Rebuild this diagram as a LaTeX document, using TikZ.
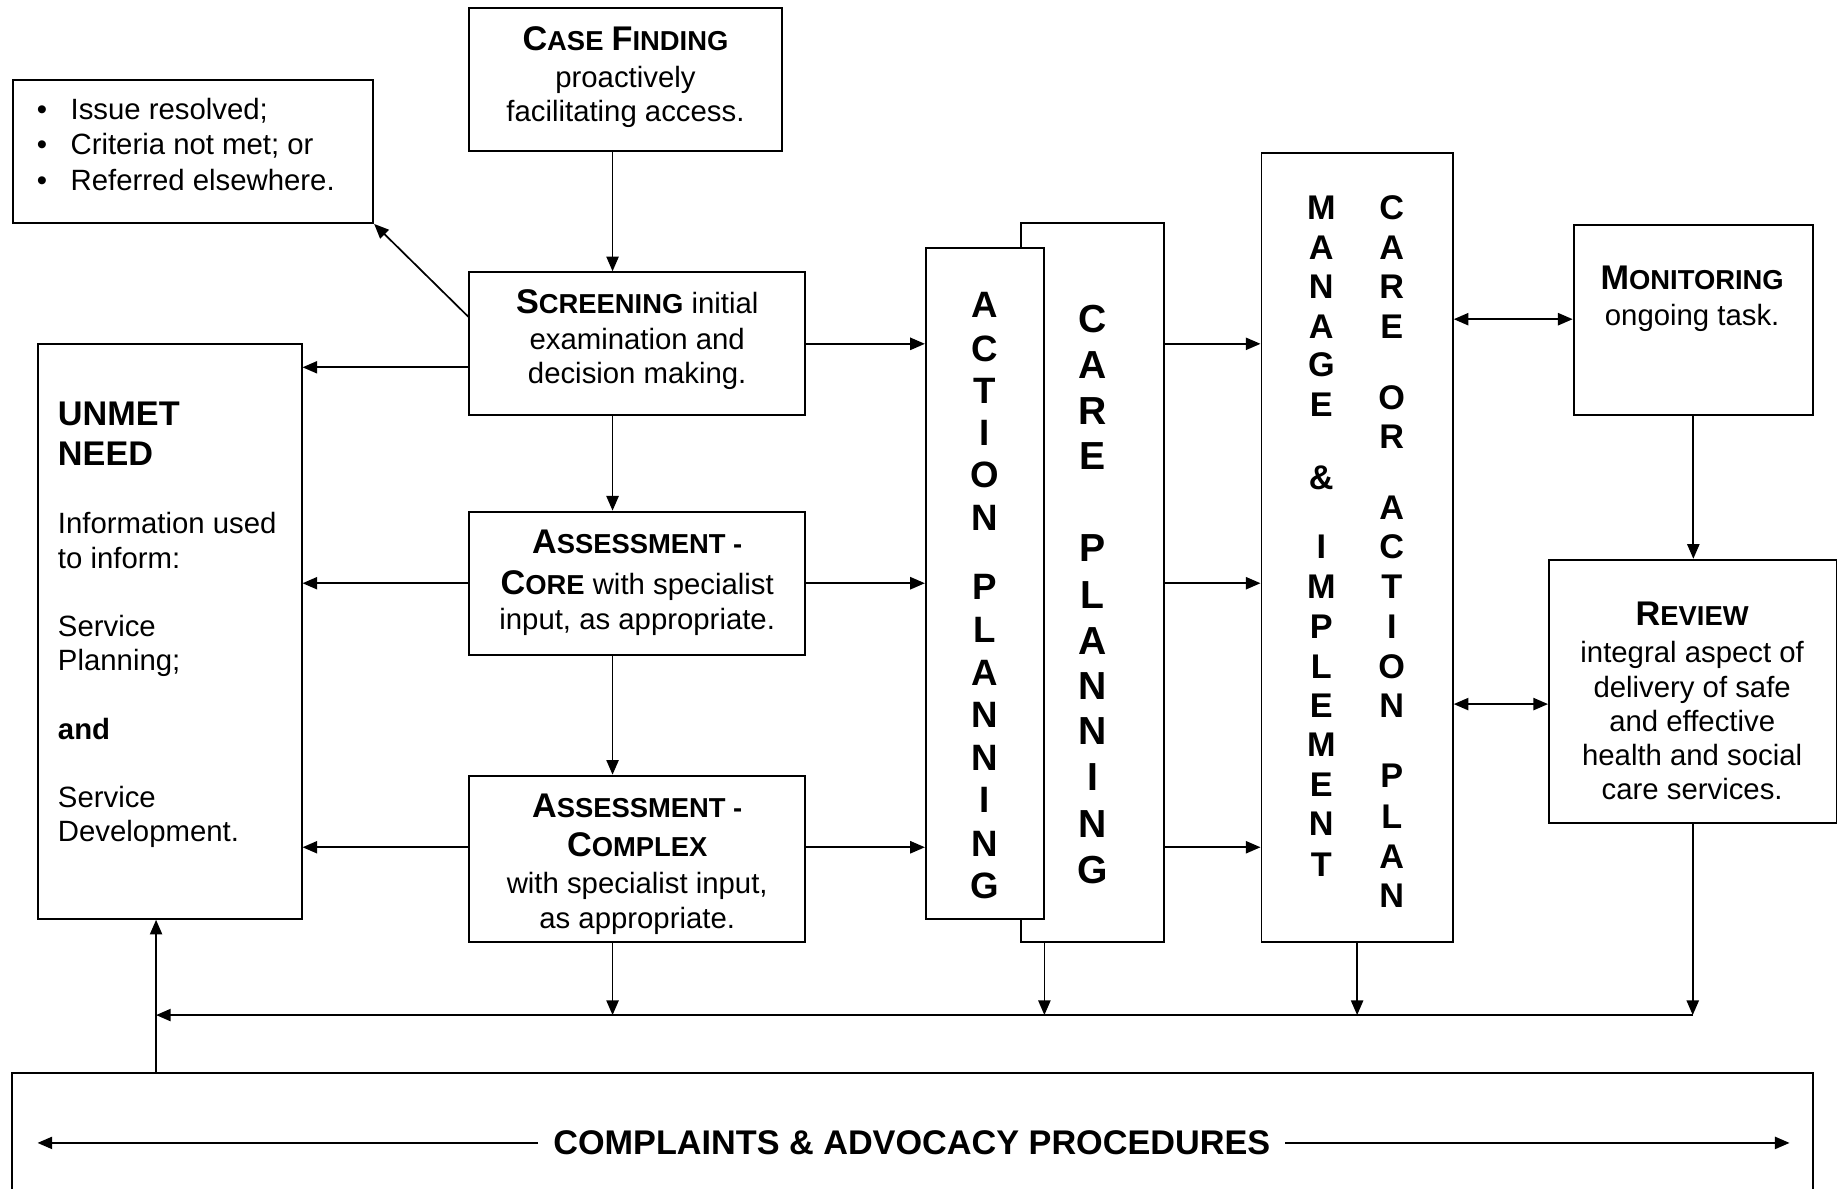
\documentclass[tikz,border=0pt]{standalone}
\usepackage{fontspec}
\setmainfont{Liberation Sans}
\usetikzlibrary{arrows.meta,fit}
\newcommand\hsc[2]{{\bfseries\fontsize{14}{16}\selectfont #1\fontsize{11.2}{16}\selectfont #2}}
\newcommand\lns[2]{\begin{tabular}[t]{@{}#1@{}}#2\end{tabular}}
\newcommand\vletters[4]{\foreach \lt/\yy [count=\ii] in {#4} {\node[vlet, font=\bfseries\fontsize{#2}{#2}\selectfont] (#3\ii) at (#1,\yy) {\lt};}}
\begin{document}
\begin{tikzpicture}[x=0.48pt, y=-0.48pt,
  box/.style={draw, line width=0.8pt, inner sep=0pt, fill=white},
  txt/.style={inner sep=0pt, font=\fontsize{12}{14}\selectfont, anchor=base},
  arr/.style={line width=0.7pt, -{Triangle[length=6pt,width=5pt]}},
  darr/.style={line width=0.7pt, {Triangle[length=6pt,width=5pt]}-{Triangle[length=6pt,width=5pt]}},
  vlet/.style={inner sep=0pt, anchor=center}]
\useasboundingbox (0,0) rectangle (1568,1013);

% boxes
\node[box, fit={(11,68) (318,190)}] (iss) {};
\node[box, fit={(400,7) (666,129)}] (cf) {};
\node[box, fit={(400,232) (686,354)}] (scr) {};
\node[box, fit={(400,436) (686,558)}] (core) {};
\node[box, fit={(400,661) (686,803)}] (cpx) {};
\node[box, fit={(32,293) (257,783)}] (unmet) {};
\node[box, fit={(870,190) (992,803)}] (care) {};
\node[box, fit={(789,211) (890,783)}] (ap) {};
\node[box, fit={(1075,130) (1238,803)}] (man) {};
\node[box, fit={(1341,192) (1545,354)}] (mon) {};
\node[box, fit={(1320,477) (1565,701)}] (rev) {};
\node[box, fit={(10,914) (1545,1040)}] (compbox) {};

% texts
\node[txt, anchor=base west] (isst) at (31,102) {\lns{l}{\textbullet\hspace{9.6pt}Issue resolved;\\[0.4pt]\textbullet\hspace{9.6pt}Criteria not met; or\\[0.4pt]\textbullet\hspace{9.6pt}Referred elsewhere.}};
\node[txt] (cft) at (533,43) {\lns{c}{\hsc{C}{ASE} \hsc{F}{INDING}\\[1pt]proactively\\facilitating access.}};
\node[txt] (scrt) at (543,267) {\lns{c}{\hsc{S}{CREENING} initial\\[0.6pt]examination and\\decision making.}};
\node[txt] (coret) at (543,472) {\lns{c}{\hsc{A}{SSESSMENT -}\\[2.8pt]\hsc{C}{ORE} with specialist\\input, as appropriate.}};
\node[txt] (cpxt) at (543,697) {\lns{c}{\hsc{A}{SSESSMENT -}\\[1.8pt]\hsc{C}{OMPLEX}\\[1.3pt]with specialist input,\\as appropriate.}};
\node[txt] (mont) at (1442,247) {\lns{c}{\hsc{M}{ONITORING}\\[0.5pt]ongoing task.}};
\node[txt] (revt) at (1442,533) {\lns{c}{\hsc{R}{EVIEW}\\[1.3pt]integral aspect of\\delivery of safe\\and effective\\health and social\\care services.}};
\node[txt, anchor=base west, font=\bfseries\fontsize{14}{16}\selectfont] (unh) at (49,363) {\lns{l}{UNMET\\NEED}};
\node[txt, anchor=base west] (unb) at (49,455) {\lns{l}{Information used\\to inform:\\[14pt]Service\\Planning;\\[14pt]\textbf{and}\\[14pt]Service\\Development.}};
\node[txt, inner xsep=6pt, font=\bfseries\fontsize{14}{16}\selectfont] (comp) at (777,984) {COMPLAINTS \& ADVOCACY PROCEDURES};

% vertical letters
\vletters{839}{15}{apl}{A/260,C/297,T/333,I/369,O/405,N/441,P/500,L/537,A/573,N/609,N/646,I/682,N/719,G/755}
\vletters{931}{16}{cpl}{C/272,A/311,R/350,E/389,P/467,L/507,A/546,N/585,N/623,I/662,N/702,G/741}
\vletters{1126}{14}{mla}{M/177,A/211,N/244,A/278,G/311,E/345,\&/407,I/466,M/500,P/534,L/568,E/601,M/635,E/669,N/702,T/737}
\vletters{1186}{14}{mlb}{C/177,A/211,R/244,E/278,O/339,R/372,A/433,C/466,T/500,I/534,O/568,N/601,P/661,L/696,A/730,N/763}

% helper coordinates
\coordinate (cA) at (522,0);
\coordinate (cC) at (890,0);
\coordinate (cU) at (133,0);
\coordinate (cL) at (32,0);
\coordinate (cR) at (1525,0);
\coordinate (yb) at (0,865);
\coordinate (y1) at (0,313);
\coordinate (r1) at (0,293);
\coordinate (y3) at (0,722);
\coordinate (s1) at (0,270);
\coordinate (m1) at (0,272);
\coordinate (m2) at (0,600);

% connectors
\draw[arr] (cf.south -| cA) -- (scr.north -| cA);
\draw[arr] (scr.south -| cA) -- (core.north -| cA);
\draw[arr] (core.south -| cA) -- (cpx.north -| cA);
\draw[arr] (cpx.south -| cA) -- (yb -| cA);
\draw[arr] (care.south -| cC) -- (yb -| cC);
\draw[arr] (man.south) -- (yb -| man.south);
\draw[arr] (rev.south) -- (yb -| rev.south);
\draw[arr] (yb -| rev.south) -- (yb -| cU);
\draw[arr] (compbox.north -| cU) -- (unmet.south -| cU);

\draw[arr] (scr.west |- s1) -- (iss.south east);
\draw[arr] (scr.west |- y1) -- (unmet.east |- y1);
\draw[arr] (core.west) -- (unmet.east |- core.west);
\draw[arr] (cpx.west |- y3) -- (unmet.east |- y3);

\draw[arr] (scr.east |- r1) -- (ap.west |- r1);
\draw[arr] (core.east) -- (ap.west |- core.east);
\draw[arr] (cpx.east |- y3) -- (ap.west |- y3);

\draw[arr] (care.east |- r1) -- (man.west |- r1);
\draw[arr] (care.east |- core.east) -- (man.west |- core.east);
\draw[arr] (care.east |- y3) -- (man.west |- y3);

\draw[darr] (man.east |- m1) -- (mon.west |- m1);
\draw[darr] (man.east |- m2) -- (rev.west |- m2);
\draw[arr] (mon.south) -- (rev.north -| mon.south);

\draw[arr] (comp.west) -- (comp.west -| cL);
\draw[arr] (comp.east) -- (comp.east -| cR);
\end{tikzpicture}
\end{document}
